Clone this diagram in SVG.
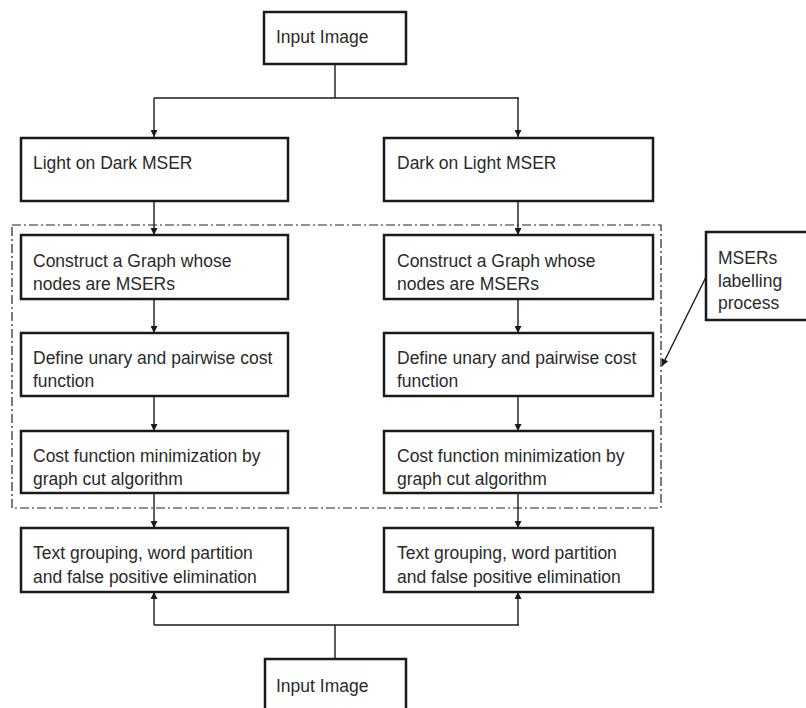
<svg xmlns="http://www.w3.org/2000/svg" width="806" height="708" viewBox="0 0 806 708">
  <style>
    .box { fill: #ffffff; stroke: #1a1a1a; stroke-width: 2.5; }
    .lbl { font-family: "Liberation Sans", Arial, sans-serif; font-size: 17.5px; fill: #2a2a2a; }
    .wire { fill: none; stroke: #1a1a1a; stroke-width: 1.4; }
    .group { fill: none; stroke: #222222; stroke-width: 1.2; stroke-dasharray: 9 3 2 3; }
  </style>
  <defs>
    <marker id="arrow" viewBox="0 0 10 10" refX="10" refY="5" markerWidth="7" markerHeight="7" markerUnits="userSpaceOnUse" orient="auto">
      <path d="M0,0 L10,5 L0,10 Z" fill="#1a1a1a"/>
    </marker>
  </defs>
  <rect width="806" height="708" fill="#ffffff"/>

  <!-- dash-dot boundary around the labelling stages -->
  <rect id="labelling-region" class="group" x="12" y="225" width="649" height="283"/>

  <g id="connectors">
    <!-- split from the top input -->
    <path class="wire" d="M335,64 V98 M154,98 H519"/>
    <path class="wire" d="M154,98 V137" marker-end="url(#arrow)"/>
    <path class="wire" d="M518,98 V137" marker-end="url(#arrow)"/>
    <!-- left column -->
    <path class="wire" d="M154,201 V235" marker-end="url(#arrow)"/>
    <path class="wire" d="M154,299 V333" marker-end="url(#arrow)"/>
    <path class="wire" d="M154,396 V431" marker-end="url(#arrow)"/>
    <path class="wire" d="M154,493 V528" marker-end="url(#arrow)"/>
    <!-- right column -->
    <path class="wire" d="M518,201 V235" marker-end="url(#arrow)"/>
    <path class="wire" d="M518,299 V333" marker-end="url(#arrow)"/>
    <path class="wire" d="M518,396 V431" marker-end="url(#arrow)"/>
    <path class="wire" d="M518,493 V528" marker-end="url(#arrow)"/>
    <!-- merge from the bottom input -->
    <path class="wire" d="M335,659 V625 M154,625 H519"/>
    <path class="wire" d="M154,625 V592" marker-end="url(#arrow)"/>
    <path class="wire" d="M518,625 V592" marker-end="url(#arrow)"/>
    <!-- callout pointer -->
    <path class="wire" d="M706,277 L662,366" marker-end="url(#arrow)"/>
  </g>

  <g id="input-top">
    <rect class="box" x="264" y="12" width="142" height="52"/>
    <text class="lbl" x="276" y="43">Input Image</text>
  </g>

  <g id="light-on-dark">
    <rect class="box" x="21" y="138" width="267" height="63"/>
    <text class="lbl" x="33" y="169">Light on Dark MSER</text>
  </g>
  <g id="dark-on-light">
    <rect class="box" x="384" y="138" width="269" height="63"/>
    <text class="lbl" x="397" y="169">Dark on Light MSER</text>
  </g>

  <g id="graph-left">
    <rect class="box" x="21" y="235" width="267" height="64"/>
    <text class="lbl" x="33" y="267">Construct a Graph whose</text>
    <text class="lbl" x="33" y="290">nodes are MSERs</text>
  </g>
  <g id="graph-right">
    <rect class="box" x="384" y="235" width="269" height="64"/>
    <text class="lbl" x="397" y="267">Construct a Graph whose</text>
    <text class="lbl" x="397" y="290">nodes are MSERs</text>
  </g>

  <g id="cost-left">
    <rect class="box" x="21" y="333" width="267" height="63"/>
    <text class="lbl" x="33" y="364">Define unary and pairwise cost</text>
    <text class="lbl" x="33" y="387">function</text>
  </g>
  <g id="cost-right">
    <rect class="box" x="384" y="333" width="269" height="63"/>
    <text class="lbl" x="397" y="364">Define unary and pairwise cost</text>
    <text class="lbl" x="397" y="387">function</text>
  </g>

  <g id="cut-left">
    <rect class="box" x="21" y="431" width="267" height="62"/>
    <text class="lbl" x="33" y="462">Cost function minimization by</text>
    <text class="lbl" x="33" y="485">graph cut algorithm</text>
  </g>
  <g id="cut-right">
    <rect class="box" x="384" y="431" width="269" height="62"/>
    <text class="lbl" x="397" y="462">Cost function minimization by</text>
    <text class="lbl" x="397" y="485">graph cut algorithm</text>
  </g>

  <g id="grouping-left">
    <rect class="box" x="21" y="528" width="267" height="64"/>
    <text class="lbl" x="33" y="559">Text grouping, word partition</text>
    <text class="lbl" x="33" y="583">and false positive elimination</text>
  </g>
  <g id="grouping-right">
    <rect class="box" x="384" y="528" width="269" height="64"/>
    <text class="lbl" x="397" y="559">Text grouping, word partition</text>
    <text class="lbl" x="397" y="583">and false positive elimination</text>
  </g>

  <g id="input-bottom">
    <rect class="box" x="265" y="659" width="141" height="70"/>
    <text class="lbl" x="276" y="692">Input Image</text>
  </g>

  <g id="labelling-note">
    <rect class="box" x="706" y="232" width="110" height="88"/>
    <text class="lbl" x="718" y="264">MSERs</text>
    <text class="lbl" x="718" y="287">labelling</text>
    <text class="lbl" x="718" y="309">process</text>
  </g>
</svg>
